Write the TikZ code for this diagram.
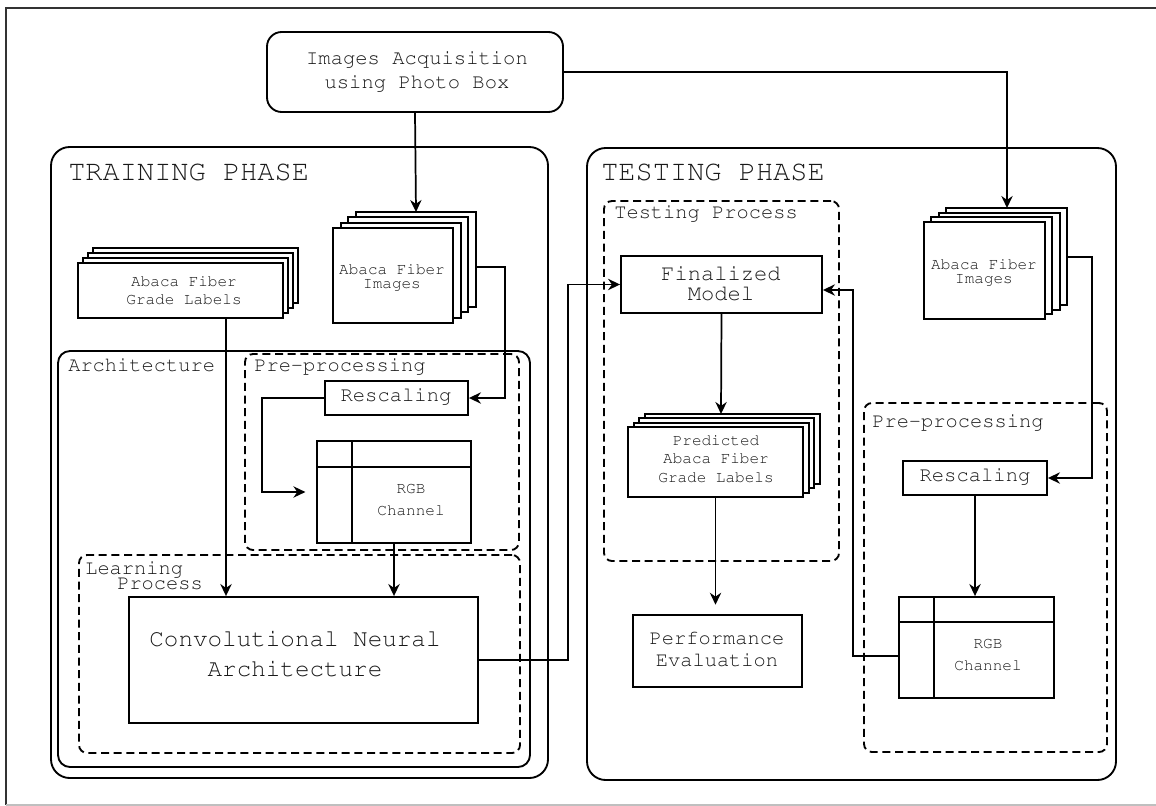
\documentclass[tikz,border=0pt]{standalone}
\usepackage[T1]{fontenc}
\usepackage{courier}
\renewcommand\familydefault{\ttdefault}
\usetikzlibrary{arrows.meta,fit,calc}
\newcommand\fsz[2]{\fontsize{#1}{#2}\selectfont}
\begin{document}
\begin{tikzpicture}[x=0.75pt,y=-0.75pt,
  every node/.style={text=black!90},
  box/.style={draw=black, line width=1.4pt, fill=white, inner sep=0pt},
  cont/.style={draw=black, line width=1.4pt, inner sep=0pt},
  dbox/.style={draw=black, line width=1.4pt, dash pattern=on 6pt off 3.5pt, rounded corners=6pt, inner sep=0pt},
  lyr/.style={draw=black, line width=1.4pt, fill=white},
  lbl/.style={inner sep=0pt, anchor=west, align=left},
  txt/.style={inner sep=0pt, align=center},
  mid/.style={font=\fsz{15.3pt}{17pt}},
  arr/.style={draw=black, line width=1.3pt, -{Stealth[length=9pt,width=8.5pt]}},
  thin/.style={draw=black, line width=1.4pt}
]
\useasboundingbox (0,0) rectangle (1156,806);
% frame
\draw[line width=1.3pt, black!80] (6,805) -- (6,8) -- (1156,8);
\draw[line width=0.8pt, black!25] (6,805) -- (1156,805);

% containers
\node[cont, rounded corners=14pt, fit={(51,147)(548,778)}] (train) {};
\node[lbl, font=\fsz{21.5pt}{24pt}] (trainlbl) at (68,172) {TRAINING PHASE};
\node[cont, rounded corners=14pt, fit={(587,148)(1116,780)}] (test) {};
\node[lbl, font=\fsz{21.5pt}{24pt}] (testlbl) at (601,172) {TESTING PHASE};
\node[cont, rounded corners=9pt, fit={(58,351)(530,767)}] (arch) {};
\node[lbl, mid] (archlbl) at (68,365) {Architecture};
\node[dbox, fit={(245,354)(519,550)}] (pre1) {};
\node[lbl, mid] (pre1lbl) at (254,367) {Pre-processing};
\node[dbox, fit={(79,555)(520,753)}] (learn) {};
\node[lbl, font=\fsz{15.3pt}{11.5pt}, anchor=north west] (learnlbl) at (85,561) {Learning\\\hspace*{24pt}Process};
\node[dbox, fit={(604,201)(839,561)}] (tproc) {};
\node[lbl, mid] (tproclbl) at (614,214) {Testing Process};
\node[dbox, fit={(864,403)(1107,752)}] (pre2) {};
\node[lbl, mid] (pre2lbl) at (872,423) {Pre-processing};

% top box
\node[box, rounded corners=11pt, fit={(267,32)(563,112)}] (acq) {};
\node[txt, font=\fsz{15.4pt}{18pt}] (acqt) at (417,72) {Images Acquisition\\using Photo Box};

% training stacks
\foreach \k in {3,2,1} \draw[lyr] (78+5*\k,263-5*\k) rectangle (283+5*\k,318-5*\k);
\node[box, fit={(78,263)(283,318)}] (grade) {};
\node[txt, font=\fsz{12pt}{13.5pt}] (gradet) at (184,291) {Abaca Fiber\\Grade Labels};
\foreach \k in {3,2,1} \draw[lyr] (333+7.7*\k,228-5.3*\k) rectangle (453+7.7*\k,323-5.3*\k);
\node[box, fit={(333,228)(453,323)}] (trimg) {};
\node[txt, font=\fsz{12pt}{10.5pt}] (trimgt) at (392,278) {Abaca Fiber\\Images};
\coordinate (trimgT) at (416,212);
\coordinate (trimgR) at (476,267);

% training pipeline
\node[box, fit={(325,381)(468,415)}] (resc1) {};
\node[txt, font=\fsz{15.4pt}{17pt}] (resc1t) at (396,397) {Rescaling};
\node[box, fit={(317,441)(471,543)}] (rgb1) {};
\draw[thin] (352,441) -- (352,543);
\draw[thin] (317,467) -- (471,467);
\node[txt, font=\fsz{12pt}{16.5pt}] (rgb1t) at (411,500) {RGB\\Channel};
\node[box, fit={(129,597)(478,723)}] (conv) {};
\node[txt, font=\fsz{18.2pt}{22.5pt}] (convt) at (295,654) {Convolutional Neural\\Architecture};

% testing
\node[box, fit={(621,256)(822,313)}] (fin) {};
\node[txt, font=\fsz{16.6pt}{15pt}] (fint) at (721,284) {Finalized\\Model};
\foreach \k in {3,2,1} \draw[lyr] (628+5.7*\k,427-4.3*\k) rectangle (803+5.7*\k,497-4.3*\k);
\node[box, fit={(628,427)(803,497)}] (pred) {};
\node[txt, font=\fsz{12pt}{14pt}] (predt) at (716,459) {Predicted\\Abaca Fiber\\Grade Labels};
\coordinate (predT) at (721,414);
\node[box, fit={(633,615)(802,687)}] (perf) {};
\node[txt, font=\fsz{15.3pt}{16.5pt}] (perft) at (717,649) {Performance\\Evaluation};
\foreach \k in {3,2,1} \draw[lyr] (924+7.3*\k,222-4.7*\k) rectangle (1045+7.3*\k,319-4.7*\k);
\node[box, fit={(924,222)(1045,319)}] (teimg) {};
\node[txt, font=\fsz{12pt}{10.5pt}] (teimgt) at (984,273) {Abaca Fiber\\Images};
\coordinate (teimgT) at (1007,208);
\coordinate (teimgR) at (1067,257);
\node[box, fit={(903,461)(1047,495)}] (resc2) {};
\node[txt, font=\fsz{15.4pt}{17pt}] (resc2t) at (975,477) {Rescaling};
\node[box, fit={(899,597)(1054,698)}] (rgb2) {};
\draw[thin] (934,597) -- (934,698);
\draw[thin] (899,622) -- (1054,622);
\node[txt, font=\fsz{12pt}{16.5pt}] (rgb2t) at (988,655) {RGB\\Channel};

% connectors
\draw[arr] (acq.south) -- (trimgT);
\draw[arr] (acq.east) -| (teimgT);
\draw[arr] (trimgR) -- (505,267) |- (resc1.east);
\coordinate (gl) at (226,318);
\draw[arr] (gl) -- (gl |- conv.north);
\draw[arr, shorten >=8pt] (resc1.west) -- (262,398) |- (rgb1.west);
\draw[arr] (rgb1.south) -- (rgb1.south |- conv.north);
\draw[arr] (conv.east) -- (568,660) |- (fin.west);
\draw[arr] (fin.south) -- (predT);
\draw[arr, shorten >=7pt] (pred.south) -- (pred.south |- perf.north);
\draw[arr] (teimgR) -- (1092,257) |- (resc2.east);
\draw[arr] (resc2.south) -- (resc2.south |- rgb2.north);
\draw[arr] ($(rgb2.west)+(0,8.5)$) -- (853,656) |- ($(fin.east)+(0,5.5)$);
\end{tikzpicture}
\end{document}
